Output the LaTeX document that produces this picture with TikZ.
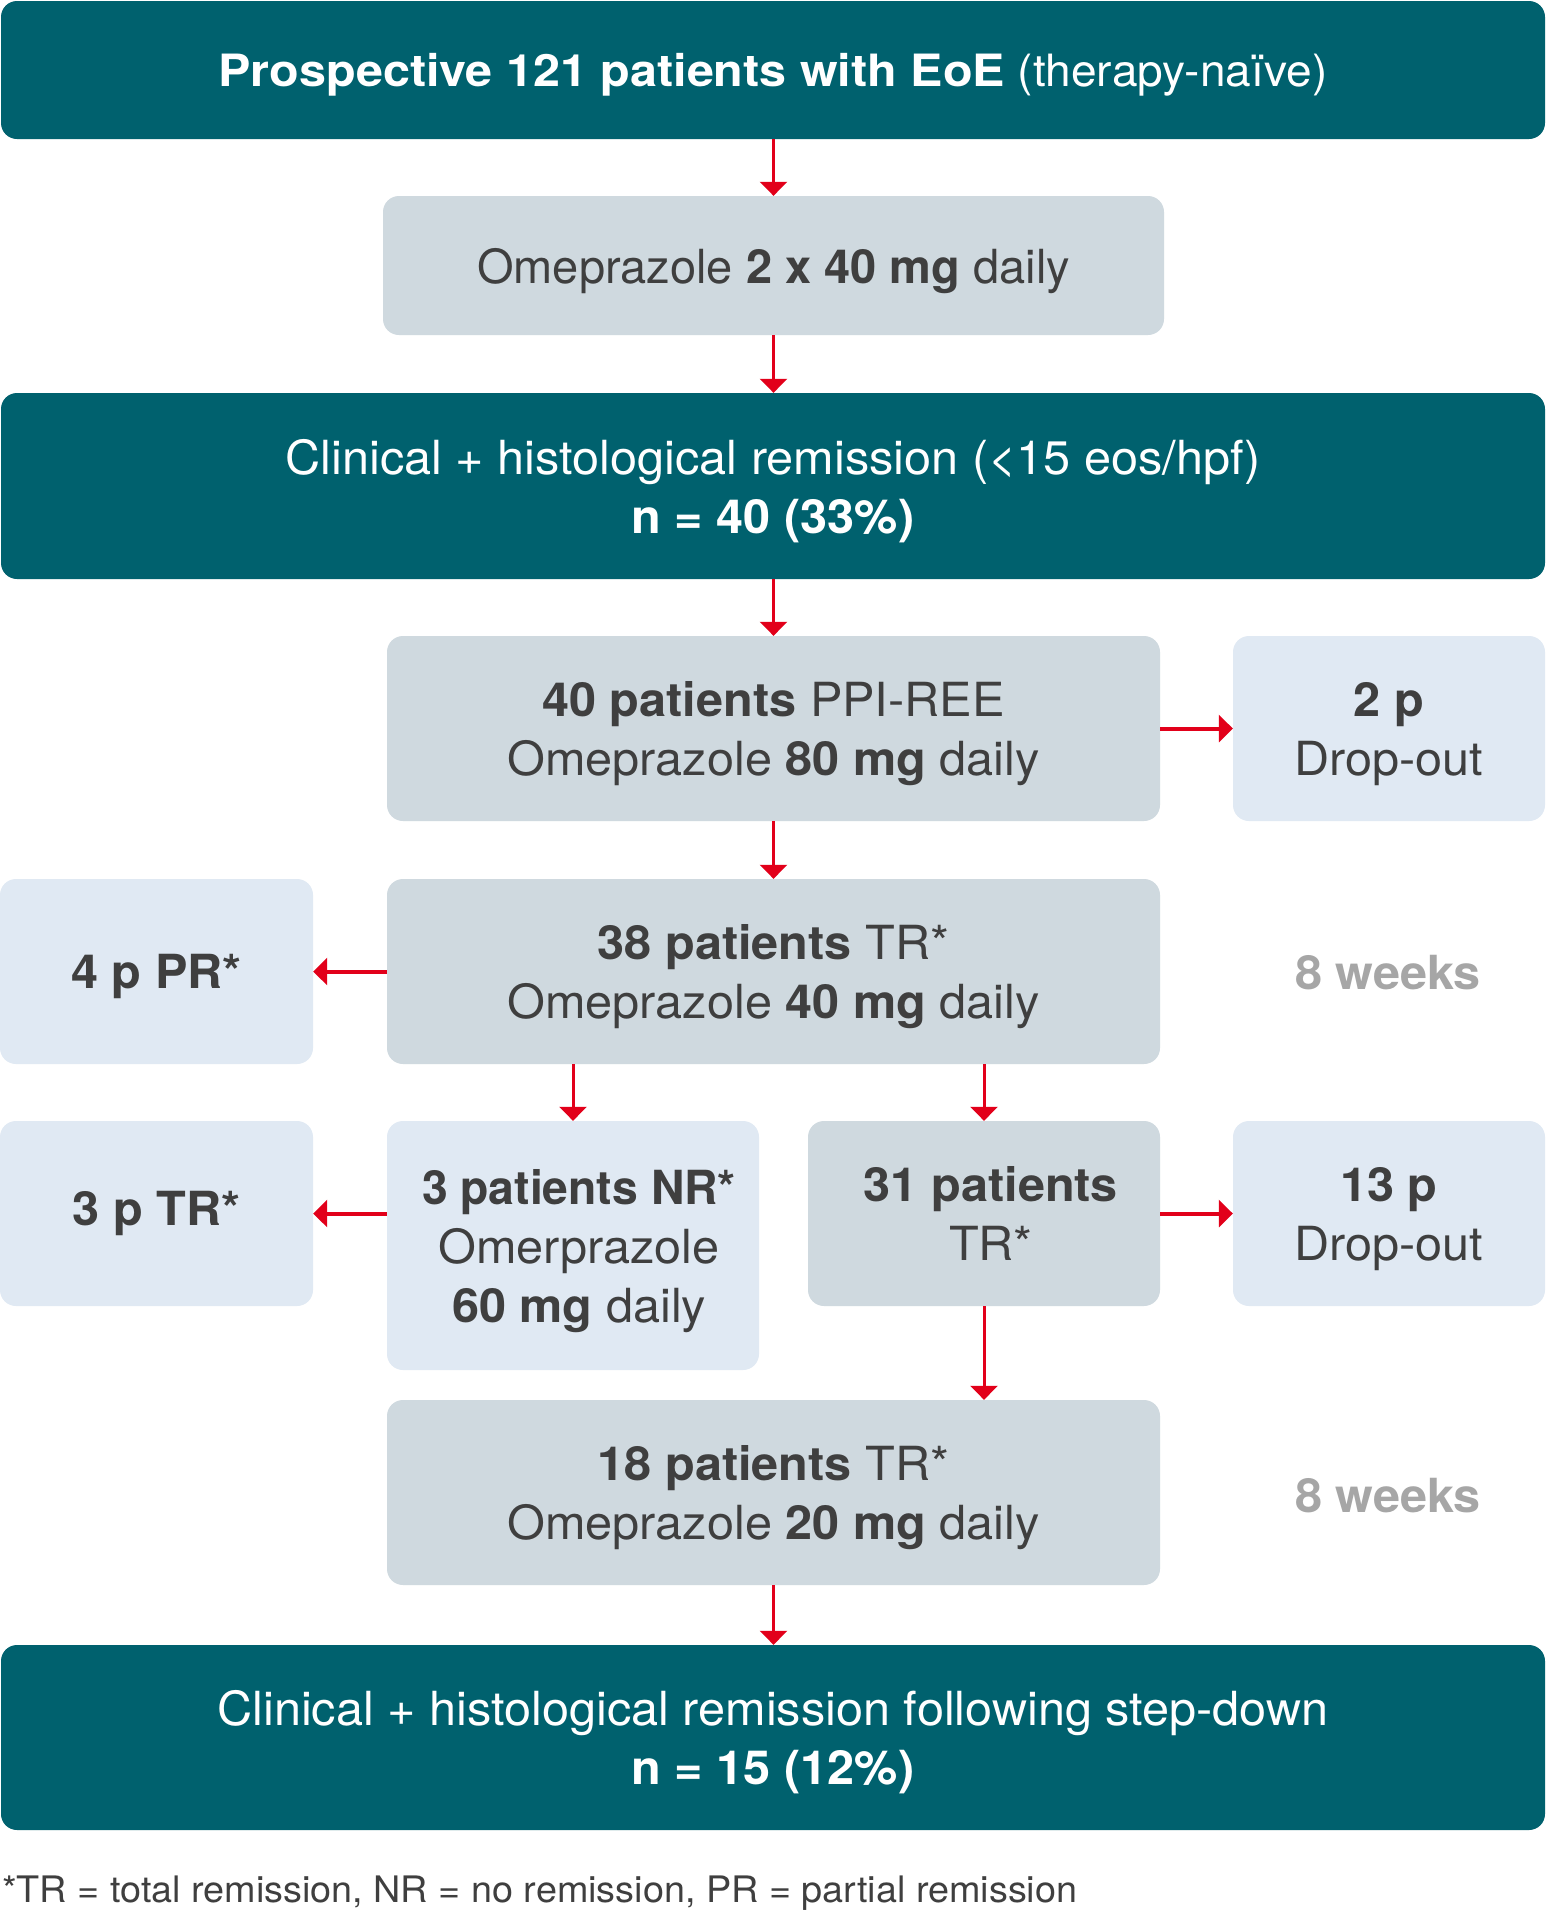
\documentclass[tikz,border=0pt]{standalone}
\usepackage{fontspec}
\setmainfont[FakeStretch=1.035]{TeX Gyre Heros}
\usetikzlibrary{arrows.meta}
\definecolor{myteal}{HTML}{00616E}
\definecolor{boxgray}{HTML}{CFD9DF}
\definecolor{boxlight}{HTML}{E0E9F3}
\definecolor{txtgray}{HTML}{3F3F3F}
\definecolor{arrowred}{HTML}{E2001A}
\definecolor{weekgray}{HTML}{A6A6A6}
\begin{document}
\begin{tikzpicture}[x=1pt,y=-1pt,
  box/.style={rounded corners=16pt, inner sep=0pt, align=center, text depth=0pt,
    font=\fontsize{47}{59}\selectfont, text=txtgray},
  darkbox/.style={box, fill=myteal, text=white},
  graybox/.style={box, fill=boxgray},
  lightbox/.style={box, fill=boxlight},
  weeks/.style={inner sep=0pt, font=\fontsize{47}{59}\selectfont\bfseries, text=weekgray},
  arr/.style={draw=arrowred, line width=3pt, -{Triangle[length=14pt,width=27pt]}},
  harr/.style={arr, line width=4pt}]
\useasboundingbox[fill=white] (0,0) rectangle (1546,1920);

\node[darkbox, minimum width=1544pt, minimum height=138pt, font=\fontsize{44.5}{54}\selectfont] (top) at (773,70)
  {\textbf{\addfontfeature{FakeStretch=1.09}Prospective 121 patients with EoE} (therapy-naïve)};
\node[graybox, minimum width=781pt, minimum height=139pt] (ome) at (773.5,265.5)
  {\addfontfeature{FakeStretch=1.0}Omeprazole \textbf{\addfontfeature{FakeStretch=1.0}2 x 40 mg} daily};
\node[darkbox, minimum width=1544pt, minimum height=186pt] (clin) at (773,486)
  {Clinical + histological remission (<15 eos/hpf)\\\textbf{n = 40 (33\%)}};
\node[graybox, minimum width=773pt, minimum height=185pt] (p40) at (773.5,728.5)
  {\textbf{40 patients} PPI-REE\\Omeprazole \textbf{80 mg} daily};
\node[lightbox, minimum width=312pt, minimum height=185pt] (d2) at (1389,728.5)
  {\textbf{2 p}\\Drop-out};
\node[graybox, minimum width=773pt, minimum height=185pt] (p38) at (773.5,971.5)
  {\textbf{38 patients} TR*\\Omeprazole \textbf{40 mg} daily};
\node[lightbox, minimum width=313pt, minimum height=185pt] (pr4) at (156.5,971.5)
  {\textbf{4 p PR*}};
\node[weeks] (w8a) at (1388,973) {8 weeks};
\node[lightbox, minimum width=313pt, minimum height=185pt, text depth=10pt] (tr3) at (156.5,1213.5)
  {\textbf{3 p TR*}};
\node[lightbox, minimum width=372pt, minimum height=249pt] (nr3) at (573,1245.5)
  {\hspace*{12pt}\textbf{\addfontfeature{FakeStretch=0.985}3 patients NR*}\\\hspace*{12pt}Omerprazole\\\hspace*{12pt}\textbf{60 mg} daily};
\node[graybox, minimum width=352pt, minimum height=185pt] (p31) at (984,1213.5)
  {\hspace*{14pt}\textbf{31 patients}\\\hspace*{14pt}TR*};
\node[lightbox, minimum width=312pt, minimum height=185pt] (d13) at (1389,1213.5)
  {\textbf{13 p}\\Drop-out};
\node[graybox, minimum width=773pt, minimum height=185pt] (p18) at (773.5,1492.5)
  {\textbf{18 patients} TR*\\Omeprazole \textbf{20 mg} daily};
\node[weeks] (w8b) at (1388,1496) {8 weeks};
\node[darkbox, minimum width=1544pt, minimum height=185pt] (fin) at (773,1737.5)
  {Clinical + histological remission following step-down\\\textbf{n = 15 (12\%)}};
\node[anchor=base west, inner sep=0pt, font=\fontsize{36.5}{44}\selectfont, text=txtgray] (foot) at (2,1902)
  {*TR = total remission, NR = no remission, PR = partial remission};

\draw[arr] (ome.north |- top.south) -- (ome.north);
\draw[arr] (ome.south) -- (ome.south |- clin.north);
\draw[arr] (p40.north |- clin.south) -- (p40.north);
\draw[harr] (p40.east) -- (d2.west);
\draw[arr] (p40.south) -- (p38.north);
\draw[harr] (p38.west) -- (pr4.east);
\draw[arr] (nr3.north |- p38.south) -- (nr3.north);
\draw[arr] (p31.north |- p38.south) -- (p31.north);
\draw[harr] (tr3.east -| nr3.west) -- (tr3.east);
\draw[harr] (p31.east) -- (d13.west);
\draw[arr] (p31.south) -- (p31.south |- p18.north);
\draw[arr] (p18.south) -- (p18.south |- fin.north);
\end{tikzpicture}
\end{document}
